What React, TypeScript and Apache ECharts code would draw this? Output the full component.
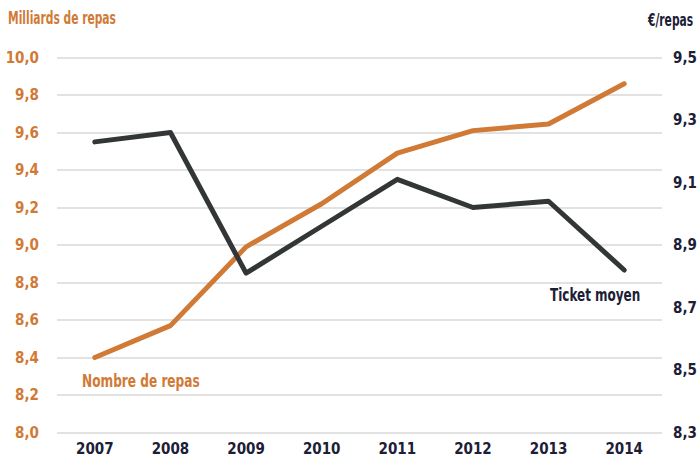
import React, { useEffect, useRef } from "react";
import * as echarts from "echarts";

const years = ["2007", "2008", "2009", "2010", "2011", "2012", "2013", "2014"];
const nombreRepas = [8.4, 8.57, 8.99, 9.22, 9.49, 9.61, 9.645, 9.86];
const ticketMoyen = [9.23, 9.26, 8.81, 8.96, 9.11, 9.02, 9.04, 8.82];

const ORANGE = "#d07a36";
const DARK = "#333637";
const NAVY = "#1c2036";
const FONT = "'DejaVu Sans Condensed', sans-serif";

const fmt = (v: number) => v.toFixed(1).replace(".", ",");

export default function App() {
  const ref = useRef<HTMLDivElement>(null);
  useEffect(() => {
    if (!ref.current) return;
    const chart = echarts.init(ref.current, null, { renderer: "svg" });
    const label = (color: string, margin: number) => ({
      color,
      fontFamily: FONT,
      fontSize: 15,
      fontWeight: "bold",
      margin,
    });
    chart.setOption({
      animation: false,
      backgroundColor: "#ffffff",
      grid: { left: 57, right: 38, top: 57.5, bottom: 32.5, containLabel: false },
      xAxis: {
        type: "category",
        data: years,
        boundaryGap: true,
        axisLine: { show: false },
        axisTick: { show: false },
        axisLabel: label(NAVY, 9),
      },
      yAxis: [
        {
          type: "value",
          min: 8,
          max: 10,
          interval: 0.2,
          axisLine: { show: false },
          axisTick: { show: false },
          splitLine: { lineStyle: { color: "#d9d9d9", width: 1.5 } },
          axisLabel: { ...label(ORANGE, 18), formatter: fmt },
        },
        {
          type: "value",
          min: 8.3,
          max: 9.5,
          interval: 0.2,
          position: "right",
          axisLine: { show: false },
          axisTick: { show: false },
          splitLine: { show: false },
          axisLabel: { ...label(NAVY, 11), formatter: fmt },
        },
      ],
      series: [
        {
          name: "Nombre de repas",
          type: "line",
          yAxisIndex: 0,
          data: nombreRepas,
          symbol: "none",
          lineStyle: { color: ORANGE, width: 5, cap: "round", join: "round" },
        },
        {
          name: "Ticket moyen",
          type: "line",
          yAxisIndex: 1,
          data: ticketMoyen,
          symbol: "none",
          lineStyle: { color: DARK, width: 5, cap: "round", join: "round" },
        },
      ],
      graphic: [
        {
          type: "text",
          x: 8,
          y: 9,
          scaleX: 0.7,
          style: { text: "Milliards de repas", fill: ORANGE, font: `bold 17px ${FONT}` },
        },
        {
          type: "text",
          x: 648,
          y: 11,
          scaleX: 0.7,
          style: { text: "€/repas", fill: NAVY, font: `bold 17px ${FONT}` },
        },
        {
          type: "text",
          x: 82,
          y: 372,
          scaleX: 0.75,
          style: { text: "Nombre de repas", fill: ORANGE, font: `bold 18px ${FONT}` },
        },
        {
          type: "text",
          x: 550,
          y: 287,
          scaleX: 0.785,
          style: { text: "Ticket moyen", fill: NAVY, font: `bold 17px ${FONT}` },
        },
      ],
    });
    return () => chart.dispose();
  }, []);
  return <div ref={ref} style={{ width: 700, height: 465, position: "absolute", left: 0, top: 0 }} />;
}
